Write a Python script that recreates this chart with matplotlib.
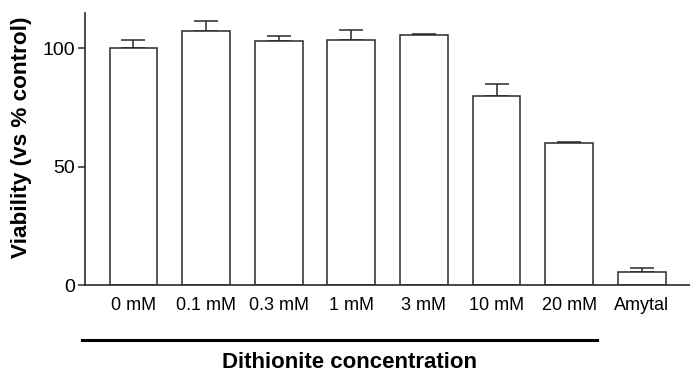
import matplotlib
matplotlib.use("Agg")
import matplotlib.pyplot as plt
from matplotlib.lines import Line2D

categories = ["0 mM", "0.1 mM", "0.3 mM", "1 mM", "3 mM", "10 mM", "20 mM", "Amytal"]
viability = [100.0, 107.5, 103.1, 103.5, 105.5, 80.0, 60.1, 5.5]
error_up = [3.4, 4.1, 2.3, 4.3, 0.7, 4.9, 0.4, 1.6]
yticks = [0, 50, 100]
xlabel = "Dithionite concentration"
ylabel = "Viability (vs % control)"

plt.rcParams['font.family'] = ['Liberation Sans', 'DejaVu Sans']
ink = '#2a2a2a'

fig = plt.figure(figsize=(6.9, 3.74), dpi=100)
ax = fig.add_axes([85/690, (374-285)/374, 1 - 85/690, (285-13)/374])

x = list(range(len(categories)))
ax.bar(x, viability, width=0.66, color='white', edgecolor=ink, linewidth=1.1, zorder=2)
ax.errorbar(x, viability, yerr=[[0]*len(error_up), error_up], fmt='none',
            ecolor=ink, elinewidth=1.1, capsize=8.6, capthick=1.1, zorder=1)

ax.set_xlim(-0.668, 7.665)
ax.set_ylim(0, 115)
ax.set_yticks(yticks)
ax.set_xticks(x)
ax.set_xticklabels(categories, fontsize=13)
ax.tick_params(axis='x', length=0, pad=9)
ax.tick_params(axis='y', length=5, width=1.1, color=ink, labelsize=14, pad=2)
for s in ['top', 'right']:
    ax.spines[s].set_visible(False)
for s in ['left', 'bottom']:
    ax.spines[s].set_color(ink)
    ax.spines[s].set_linewidth(1.2)
ax.set_ylabel(ylabel, fontsize=16.2, fontweight='bold')
ax.yaxis.set_label_coords(-0.0876, (285-137.5)/272)

fig.add_artist(Line2D([82/690, 597/690], [(374-340)/374]*2, color='black', linewidth=2.2))
fig.text(350/690, (374-362)/374, xlabel, fontsize=16, fontweight='bold',
         ha='center', va='center')

fig.savefig("out.png", dpi=100)
